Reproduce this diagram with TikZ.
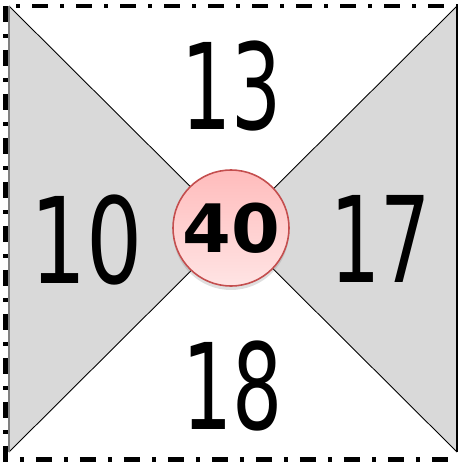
\documentclass[tikz,border=0pt]{standalone}
\usepackage{fontspec}
\newfontfamily\botonfont{DejaVu Sans}
\usetikzlibrary{shadows}

\definecolor{grisclaro}{RGB}{217,217,217}
\definecolor{rosaarriba}{RGB}{255,188,188}
\definecolor{rosaabajo}{RGB}{255,228,228}
\definecolor{rojoborde}{RGB}{196,78,78}

\tikzset{
  numero/.style={font=\botonfont\fontsize{68}{68}\selectfont, inner sep=0pt},
  boton/.style={circle, draw=rojoborde, line width=0.9pt, minimum size=2.32cm,
    top color=rosaarriba, bottom color=rosaabajo, inner sep=0pt,
    drop shadow={shadow xshift=0pt, shadow yshift=-0.08cm, opacity=0.25},
    font=\botonfont\bfseries\fontsize{38}{38}\selectfont},
  marco/.style={line width=2.3pt, dash pattern=on 0.32cm off 0.24cm on 0.08cm off 0.24cm},
}

\begin{document}
\begin{tikzpicture}[x=0.02cm,y=-0.02cm] % 1 unidad = 1 pixel de la imagen

    \useasboundingbox (0,0) rectangle (457,463);

    % Esquinas del cuadrado
    \coordinate (A) at (9,6);
    \coordinate (B) at (457,6);
    \coordinate (C) at (457,452);
    \coordinate (D) at (9,452);
    \coordinate (O) at (233,229);

    % Triángulos grises a izquierda y derecha
    \fill[grisclaro] (A) -- (O) -- (D) -- cycle;
    \fill[grisclaro] (B) -- (O) -- (C) -- cycle;

    % Diagonales y lados
    \draw[line width=0.5pt] (A) -- (C);
    \draw[line width=0.5pt] (B) -- (D);
    \draw[gray, line width=1pt] (A) -- (D);
    \draw[line width=1pt] (B) -- (C);

    % Marco punteado
    \draw[marco] (5.5,6) rectangle (475,459.5);

    % Números
    \node[numero] (n13) at (232,86) {\scalebox{0.66}[1]{13}};
    \node[numero] (n10) at (87,240) {\scalebox{0.74}[1]{10}};
    \node[numero] (n17) at (381,239) {\scalebox{0.66}[1]{17}};
    \node[numero] (n18) at (233,386) {\scalebox{0.66}[1]{18}};

    % Botón central
    \node[boton] (centro) at (231,228) {\scalebox{1.05}[1]{40}};
\end{tikzpicture}
\end{document}
